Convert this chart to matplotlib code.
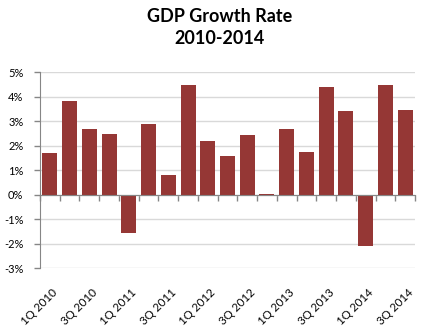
import matplotlib
matplotlib.use("Agg")
import matplotlib.pyplot as plt
import matplotlib.transforms as mtransforms
import numpy as np

quarters = ["1Q 2010", "2Q 2010", "3Q 2010", "4Q 2010",
            "1Q 2011", "2Q 2011", "3Q 2011", "4Q 2011",
            "1Q 2012", "2Q 2012", "3Q 2012", "4Q 2012",
            "1Q 2013", "2Q 2013", "3Q 2013", "4Q 2013",
            "1Q 2014", "2Q 2014", "3Q 2014"]
growth = [1.71, 3.83, 2.69, 2.49, -1.54, 2.89, 0.82, 4.48, 2.20,
          1.59, 2.45, 0.04, 2.69, 1.75, 4.40, 3.42, -2.11, 4.48, 3.46]
yticks = [-3, -2, -1, 0, 1, 2, 3, 4, 5]

plt.rcParams['font.family'] = ['Lato', 'DejaVu Sans']

W, H = 427, 329
fig = plt.figure(figsize=(W / 100, H / 100), dpi=100)
ax = fig.add_axes([40 / W, 1 - 268.3 / H, 375 / W, (268.3 - 72.3) / H])

x = np.arange(len(growth))
ax.bar(x, growth, width=0.76, color='#953735', zorder=3)

ax.set_xlim(-0.5, len(growth) - 0.5)
ax.set_ylim(-3, 5)
ax.set_yticks(yticks)
ax.set_yticklabels([f"{v}%" for v in yticks], fontsize=8, color='#000000')
ax.yaxis.grid(True, color='#d9d9d9', linewidth=1, zorder=0)
ax.tick_params(axis='y', length=4, width=1, color='#868686', pad=8)

for s in ['top', 'right']:
    ax.spines[s].set_visible(False)
ax.spines['left'].set_color('#868686')
ax.spines['bottom'].set_color('#868686')
ax.spines['bottom'].set_position(('data', 0))
ax.spines['bottom'].set_zorder(4)

ax.set_xticks(np.arange(-0.5, len(growth), 1.0))
ax.set_xticklabels([])
ax.tick_params(axis='x', length=4, width=1, color='#868686', direction='out')

trans = mtransforms.blended_transform_factory(ax.transData, ax.transAxes)
off = mtransforms.ScaledTranslation(1.5 / 72, -13.5 / 72, fig.dpi_scale_trans)
for i, q in enumerate(quarters):
    if i % 2 == 0:
        ax.text(i, 0, q, transform=trans + off, rotation=45, ha='right', va='top',
                rotation_mode='anchor', fontsize=8.3)

fig.text(220 / W, 1 - 17 / H, "GDP Growth Rate", ha='center', va='center',
         fontsize=13, fontweight='bold')
fig.text(220 / W, 1 - 39 / H, "2010-2014", ha='center', va='center',
         fontsize=13, fontweight='bold')

fig.savefig("out.png", dpi=100)
